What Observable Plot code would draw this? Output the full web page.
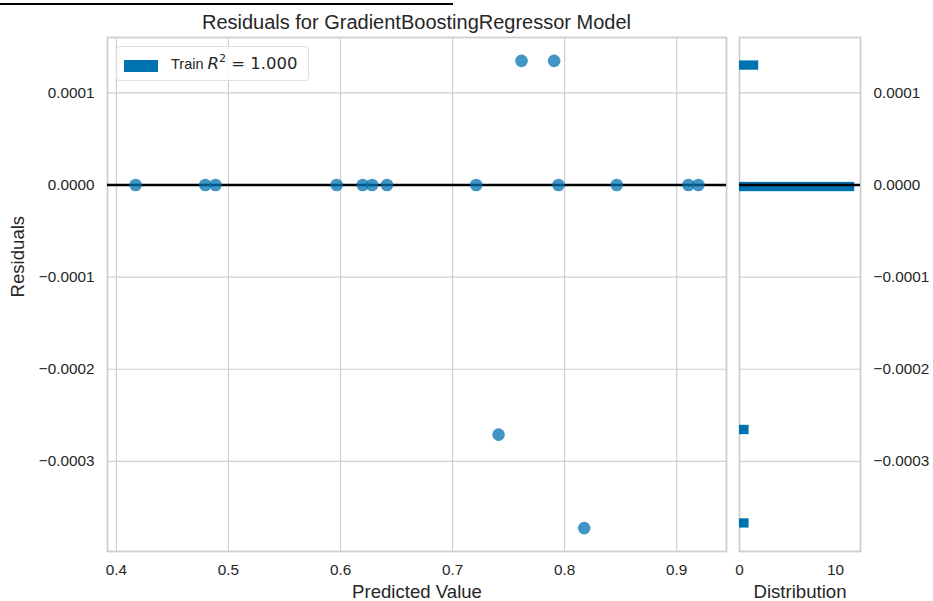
<!DOCTYPE html>
<html>
<head>
<meta charset="utf-8">
<script src="https://cdn.jsdelivr.net/npm/d3@7"></script>
<script src="https://cdn.jsdelivr.net/npm/@observablehq/plot@0.6"></script>
<style>
  html, body { margin: 0; padding: 0; background: #fff; }
  #wrap { position: relative; width: 933px; height: 601px; overflow: hidden; font-family: "Liberation Sans", Arial, sans-serif; color: #262626; }
  #wrap svg { position: absolute; top: 0; overflow: visible; }
  .topline { position: absolute; left: 0; top: 3px; width: 453px; height: 2px; background: #000; }
  .title { position: absolute; left: 0; width: 833px; top: 12px; text-align: center; font-size: 20px; line-height: 20px; white-space: nowrap; }
  .legend { position: absolute; left: 116px; top: 46px; width: 193px; height: 35px; box-sizing: border-box; border: 1px solid rgba(215,215,215,0.8); border-radius: 4px; background: rgba(255,255,255,0.8); z-index: 5; }
  .legend .patch { position: absolute; left: 7px; top: 13px; width: 34px; height: 12px; background: #0072B2; }
  .legend .lab { position: absolute; left: 54px; top: 8px; font-size: 14.5px; line-height: 18px; white-space: nowrap; }
  .legend .math { font-family: "DejaVu Sans", sans-serif; font-size: 16.5px; }
</style>
</head>
<body>
<div id="wrap">
  <div class="topline"></div>
  <div class="title">Residuals for GradientBoostingRegressor Model</div>
  <div class="legend"><div class="patch"></div><div class="lab">Train <span class="math"><i>R</i><sup style="font-size:11px;vertical-align:7px;line-height:0">2</sup> = 1.000</span></div></div>
</div>
<script>
// ---- data ----
const predicted = [0.4172, 0.4793, 0.4885, 0.5966, 0.6198, 0.6282, 0.6415, 0.7211, 0.7945, 0.8465, 0.9104, 0.9193, 0.7615, 0.7906, 0.7410, 0.8174];
const residuals = [0, 0, 0, 0, 0, 0, 0, 0, 0, 0, 0, 0, 1.348e-4, 1.348e-4, -2.710e-4, -3.725e-4];
const binLow   = [-3.725e-4, -2.710e-4, -0.072e-4, 1.247e-4];
const binHigh  = [-3.624e-4, -2.609e-4,  0.029e-4, 1.348e-4];
const binCount = [1, 1, 12, 2];
const xTicks = [0.4, 0.5, 0.6, 0.7, 0.8, 0.9];
const yTicks = [-0.0003, -0.0002, -0.0001, 0, 0.0001];
const distTicks = [0, 10];

const points = predicted.map((p, i) => ({pred: p, res: residuals[i]}));
const bins = binLow.map((lo, i) => ({lo, hi: binHigh[i], n: binCount[i]}));

const yDomain = [-3.979e-4, 1.602e-4];
const gridColor = "#cfcfcf";
const textColor = "#262626";
const fmtY = d3.format(".4f");
const baseStyle = {fontFamily: '"Liberation Sans", Arial, sans-serif', fontSize: "15.3px", color: textColor, background: "transparent"};

const main = Plot.plot({
  width: 733, height: 601,
  marginLeft: 107, marginRight: 7, marginTop: 37, marginBottom: 50,
  style: baseStyle,
  x: {domain: [0.3921, 0.9444]},
  y: {domain: yDomain},
  marks: [
    Plot.gridX(xTicks, {stroke: gridColor, strokeOpacity: 1, strokeWidth: 1.2}),
    Plot.gridY(yTicks, {stroke: gridColor, strokeOpacity: 1, strokeWidth: 1.2}),
    Plot.frame({stroke: gridColor, strokeWidth: 1.8}),
    Plot.ruleY([0], {stroke: "#000", strokeWidth: 2.5}),
    Plot.dot(points, {x: "pred", y: "res", r: 6.3, fill: "#0072B2", fillOpacity: 0.75, stroke: null}),
    Plot.axisX({ticks: xTicks, tickSize: 0, tickPadding: 13, tickFormat: d3.format(".1f"), label: null}),
    Plot.axisY({ticks: yTicks, tickSize: 0, tickPadding: 13, tickFormat: fmtY, label: null}),
    Plot.text(["Predicted Value"], {frameAnchor: "bottom", dy: 46, fontSize: 18.6, fill: textColor}),
    Plot.text(["Residuals"], {frameAnchor: "left", dx: -89.5, dy: 3, rotate: -90, fontSize: 18.6, fill: textColor})
  ]
});
main.style.left = "0px";

const hist = Plot.plot({
  width: 200, height: 601,
  marginLeft: 6, marginRight: 73, marginTop: 37, marginBottom: 50,
  style: baseStyle,
  x: {domain: [0, 12.6]},
  y: {domain: yDomain},
  marks: [
    Plot.gridY(yTicks, {stroke: gridColor, strokeOpacity: 1, strokeWidth: 1.2}),
    Plot.frame({stroke: gridColor, strokeWidth: 1.8}),
    Plot.rectX(bins, {x1: 0, x2: "n", y1: "lo", y2: "hi", fill: "#0072B2", inset: 0}),
    Plot.ruleY([0], {stroke: "#000", strokeWidth: 2.5}),
    Plot.axisX({ticks: distTicks, tickSize: 0, tickPadding: 13, label: null}),
    Plot.axisY({anchor: "right", ticks: yTicks, tickSize: 0, tickPadding: 13, tickFormat: fmtY, label: null}),
    Plot.text(["Distribution"], {frameAnchor: "bottom", dy: 46, fontSize: 18.6, fill: textColor})
  ]
});
hist.style.left = "733px";

const wrap = document.getElementById("wrap");
wrap.appendChild(main);
wrap.appendChild(hist);
</script>
</body>
</html>
